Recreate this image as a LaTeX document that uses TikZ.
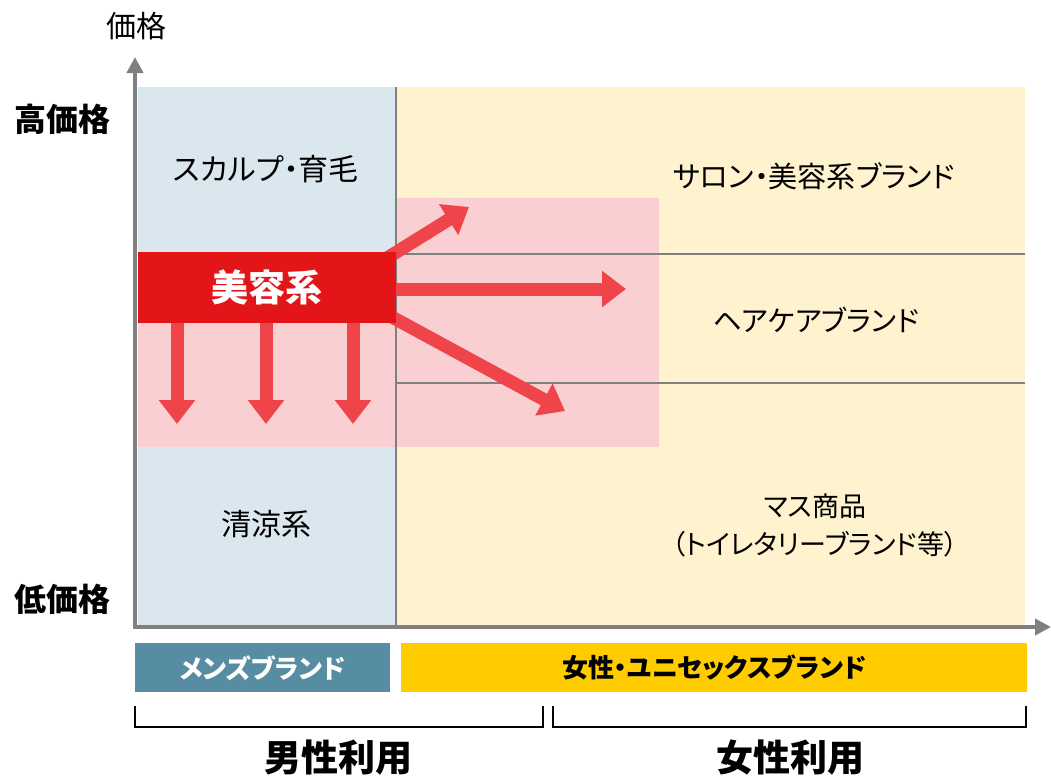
\documentclass[tikz,border=0pt]{standalone}
\usepackage{fontspec}
\setmainfont{Noto Sans CJK JP}[RawFeature=+palt]
\usetikzlibrary{arrows.meta}
\definecolor{menbg}{HTML}{DAE7EE}
\definecolor{womenbg}{HTML}{FFF3CF}
\definecolor{pinkbg}{HTML}{F9CFD1}
\definecolor{boxred}{HTML}{E31519}
\definecolor{arrowred}{HTML}{EF444A}
\definecolor{menbar}{HTML}{568DA2}
\definecolor{womenbar}{HTML}{FFCC00}
\definecolor{axisgray}{HTML}{808080}
\begin{document}
\begin{tikzpicture}[x=1pt,y=-1pt,
  lbl/.style={inner sep=0pt, font=\fontsize{30}{36}\selectfont},
  blbl/.style={inner sep=0pt, font=\fontsize{32}{38}\selectfont\bfseries},
  barlbl/.style={inner sep=0pt, font=\fontsize{26}{30}\selectfont\bfseries},
  bigarrow/.style={draw=arrowred, line width=13pt, -{Triangle[width=35pt,length=24pt]}},
  gridline/.style={draw=axisgray, line width=2pt},
  bracket/.style={draw=black, line width=2.5pt}]
\useasboundingbox (0,0) rectangle (1051,776);
% regions
\fill[menbg] (138,87) rectangle (396,625);
\fill[womenbg] (396,87) rectangle (1025,625);
\fill[pinkbg] (138,252) rectangle (396,447);
\fill[pinkbg] (396,198) rectangle (659,447);
% grid lines
\draw[gridline] (396,87) -- (396,625);
\draw[gridline] (396,253.5) -- (1025,253.5);
\draw[gridline] (396,382.5) -- (1025,382.5);
% arrows
\coordinate (tipUR) at (469,207);
\coordinate (tipR) at (626,289);
\coordinate (tipDR) at (565,411);
\coordinate (tipD1) at (177,424);
\coordinate (tipD2) at (266,424);
\coordinate (tipD3) at (353,424);
\draw[bigarrow] (387,258) -- (tipUR);
\draw[bigarrow] (390,289) -- (tipR);
\draw[bigarrow] (390,316) -- (tipDR);
\draw[bigarrow] (177,320) -- (tipD1);
\draw[bigarrow] (266,320) -- (tipD2);
\draw[bigarrow] (353,320) -- (tipD3);
% red box
\node[fill=boxred, minimum width=258pt, minimum height=71pt, inner sep=0pt, anchor=north west,
  font=\fontsize{37}{42}\selectfont\bfseries, text=white] (beauty) at (138,252) {美容系};
% axes
\coordinate (ytop) at (135,57);
\coordinate (origin) at (135,627);
\coordinate (xend) at (1051,627);
\draw[draw=axisgray, line width=4pt, {Triangle[width=16pt,length=16pt]}-{Triangle[width=16pt,length=16pt]}] (ytop) -- (origin) -- (xend);
% axis labels
\node[lbl] (price) at (136,26) {価格};
\node[blbl] (high) at (62,119) {高価格};
\node[blbl] (low) at (62,599) {低価格};
% region labels
\node[lbl] (scalp) at (266,169) {スカルプ・育毛};
\node[lbl] (cool) at (266,524) {清涼系};
\node[lbl, font=\fontsize{29}{34}\selectfont] (salon) at (814,176) {サロン・美容系ブランド};
\node[lbl, font=\fontsize{28.5}{34}\selectfont] (haircare) at (816,320) {ヘアケアブランド};
\node[lbl, font=\fontsize{27}{32}\selectfont] (mass) at (815,506) {マス商品};
\node[lbl, font=\fontsize{27}{32}\selectfont] (toiletry) at (815,544) {（トイレタリーブランド等）};
% bars
\node[fill=menbar, minimum width=255pt, minimum height=49pt, inner sep=0pt, anchor=north west] (menbar) at (135,643) {};
\node[barlbl, text=white] (menlbl) at (menbar.center) {メンズブランド};
\node[fill=womenbar, minimum width=626pt, minimum height=49pt, inner sep=0pt, anchor=north west] (womenbar) at (401,643) {};
\node[barlbl] (womenlbl) at (womenbar.center) {女性・ユニセックスブランド};
% brackets
\draw[bracket] (135,706) -- (135,727) -- (543,727) -- (543,706);
\draw[bracket] (553,706) -- (553,727) -- (1026,727) -- (1026,706);
\node[inner sep=0pt, font=\fontsize{37}{42}\selectfont\bfseries] (maleuse) at (338,758) {男性利用};
\node[inner sep=0pt, font=\fontsize{37}{42}\selectfont\bfseries] (femaleuse) at (790,758) {女性利用};
\end{tikzpicture}
\end{document}
